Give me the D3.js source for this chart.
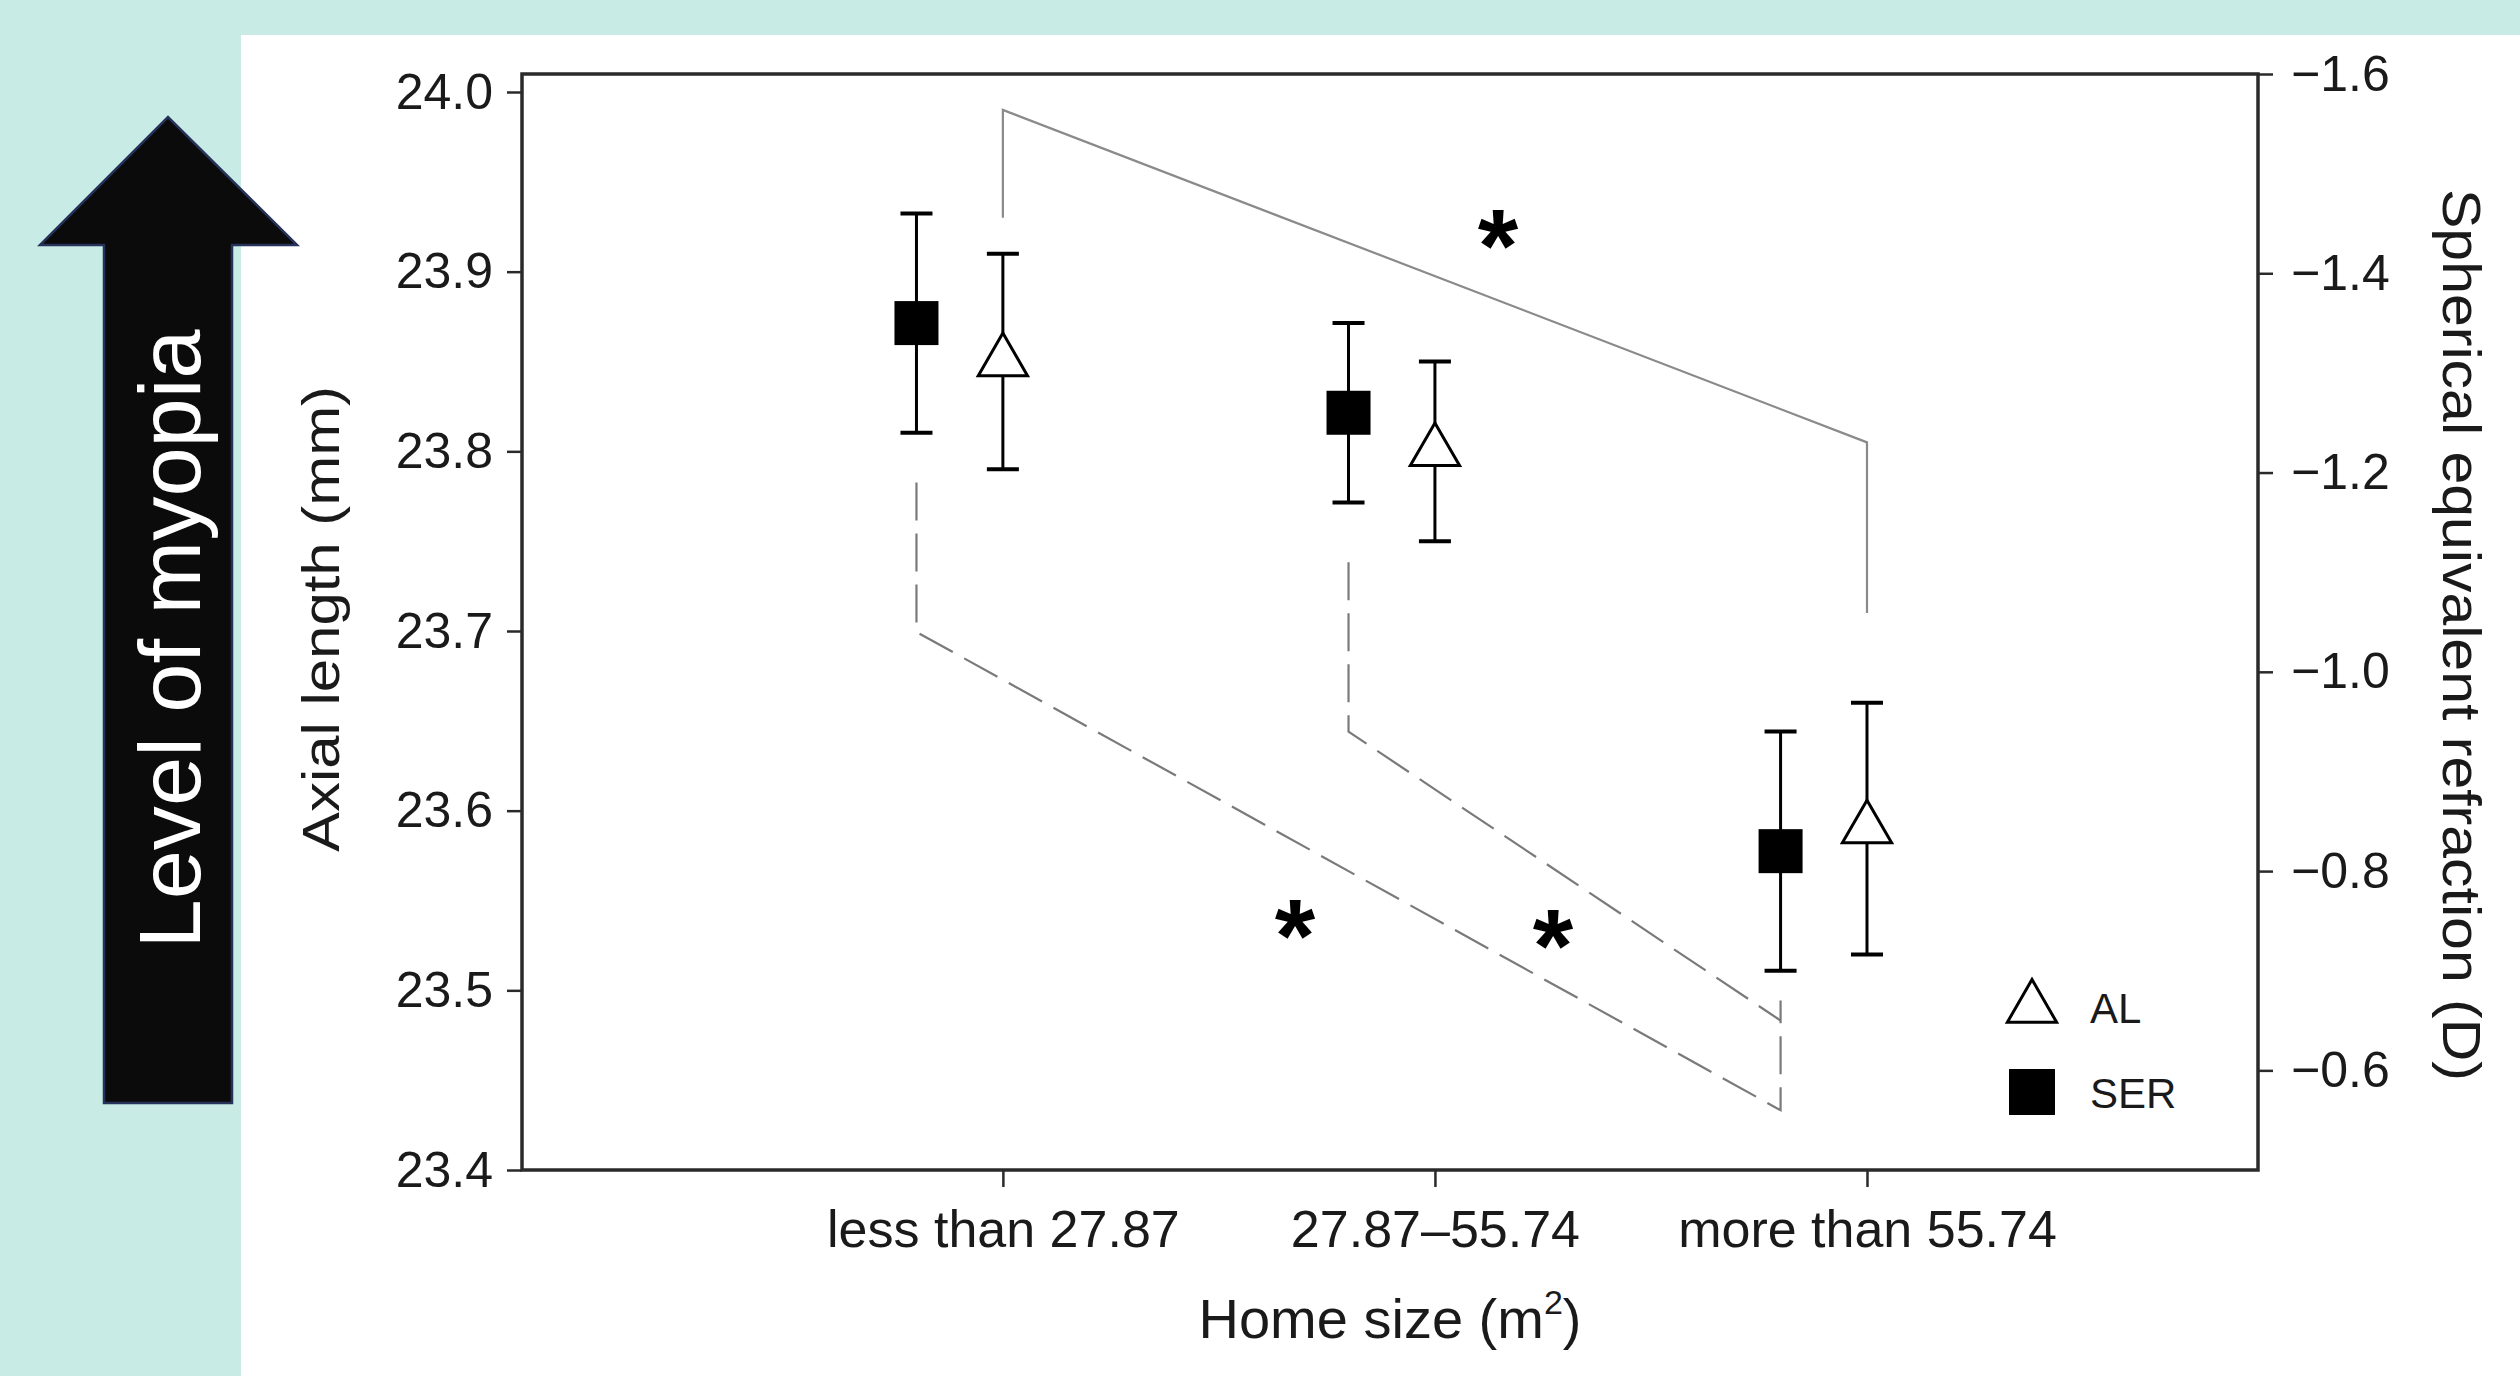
<!DOCTYPE html>
<html>
<head>
<meta charset="utf-8">
<script src="https://cdn.jsdelivr.net/npm/d3@7"></script>
<style>
  html, body { margin: 0; padding: 0; background: #c8ece5; }
  svg { display: block; }
  text { font-family: "Liberation Sans", Arial, sans-serif; }
</style>
</head>
<body>
<svg id="chart" width="2520" height="1376"></svg>
<script>
// ---------------- data ----------------
const categories = ["less than 27.87", "27.87\u201355.74", "more than 55.74"];
const alMean = [23.85, 23.80, 23.59];     // Axial length (mm), left axis
const alErr  = [0.06, 0.05, 0.07];
const serMean = [-1.35, -1.26, -0.82];    // Spherical equivalent refraction (D), right axis
const serErr  = [0.11, 0.09, 0.12];
const leftTicks  = [23.4, 23.5, 23.6, 23.7, 23.8, 23.9, 24.0];
const rightTicks = [-1.6, -1.4, -1.2, -1.0, -0.8, -0.6];
const serOffset = -0.2;                    // SER markers sit left of the category
// significance brackets: [category index, value]
const alBracket  = [[0, 23.93], [0, 23.99], [2, 23.805], [2, 23.71]];
const serBracketOuter = [[0, -1.19], [0, -1.04], [2, -0.56], [2, -0.67]];
const serBracketInner = [[1, -1.11], [1, -0.94], [2, -0.65]];
const alStars  = [[1.146, 23.922]];
const serStars = [[0.676 - serOffset, -0.749], [1.273 - serOffset, -0.739]];
const legendItems = ["AL", "SER"];

// ---------------- layout ----------------
const svg = d3.select("#chart");
svg.append("rect").attr("x", 0).attr("y", 0).attr("width", 2520).attr("height", 1376).attr("fill", "#c8ece5");
svg.append("rect").attr("x", 241).attr("y", 35).attr("width", 2279).attr("height", 1341).attr("fill", "#ffffff");

// Level of myopia arrow
const arrow = [[104, 1103], [104, 245], [40, 245], [168, 117], [297, 245], [232, 245], [232, 1103]];
svg.append("path")
  .attr("d", d3.line()(arrow) + "Z")
  .attr("fill", "#0b0b0b")
  .attr("stroke", "#26325a")
  .attr("stroke-width", 2.5);
svg.append("text")
  .attr("transform", "translate(200,639) rotate(-90)")
  .attr("text-anchor", "middle")
  .attr("font-size", 88)
  .attr("fill", "#ffffff")
  .attr("textLength", 619)
  .attr("lengthAdjust", "spacingAndGlyphs")
  .text("Level of myopia");

const X0 = 522, X1 = 2258, YT = 74, YB = 1170;
const x = d3.scaleLinear().domain([-1.113, 2.905]).range([X0, X1]);
const yL = d3.scaleLinear().domain([23.4, 24.0]).range([YB, 92]);
const yR = d3.scaleLinear().domain([-0.5, -1.6]).range([YB, YT]);

const axisColor = "#2a2a2a";

// frame
svg.append("rect")
  .attr("x", X0).attr("y", YT).attr("width", X1 - X0).attr("height", YB - YT)
  .attr("fill", "none").attr("stroke", axisColor).attr("stroke-width", 3.5);

function styleAxis(g) {
  g.select(".domain").remove();
  g.selectAll(".tick line").attr("stroke", axisColor).attr("stroke-width", 2.5);
  g.selectAll(".tick text").attr("fill", "#1a1a1a").attr("font-family", "Liberation Sans, Arial, sans-serif");
}

// left axis
svg.append("g")
  .attr("transform", `translate(${X0},0)`)
  .call(d3.axisLeft(yL).tickValues(leftTicks).tickFormat(d3.format(".1f")).tickSize(15).tickPadding(14))
  .call(styleAxis)
  .call(g => g.selectAll(".tick text").attr("font-size", 50));

// right axis
svg.append("g")
  .attr("transform", `translate(${X1},0)`)
  .call(d3.axisRight(yR).tickValues(rightTicks).tickFormat(d3.format(".1f")).tickSize(15).tickPadding(18))
  .call(styleAxis)
  .call(g => g.selectAll(".tick text").attr("font-size", 50));

// bottom axis
svg.append("g")
  .attr("transform", `translate(0,${YB})`)
  .call(d3.axisBottom(x).tickValues([0, 1, 2]).tickFormat(i => categories[i]).tickSize(17).tickPadding(23))
  .call(styleAxis)
  .call(g => g.selectAll(".tick text").attr("font-size", 52));

// axis titles
svg.append("text")
  .attr("transform", "translate(339,619) rotate(-90)")
  .attr("text-anchor", "middle")
  .attr("font-size", 52)
  .attr("fill", "#1a1a1a")
  .attr("textLength", 466)
  .attr("lengthAdjust", "spacingAndGlyphs")
  .text("Axial length (mm)");

svg.append("text")
  .attr("transform", "translate(2443,635) rotate(90)")
  .attr("text-anchor", "middle")
  .attr("font-size", 54)
  .attr("fill", "#1a1a1a")
  .attr("textLength", 892)
  .attr("lengthAdjust", "spacingAndGlyphs")
  .text("Spherical equivalent refraction (D)");

const xt = svg.append("text")
  .attr("x", (X0 + X1) / 2).attr("y", 1338)
  .attr("text-anchor", "middle")
  .attr("font-size", 56)
  .attr("fill", "#1a1a1a");
xt.append("tspan").text("Home size (m");
xt.append("tspan").attr("font-size", 34).attr("dy", -24).text("2");
xt.append("tspan").attr("dy", 24).text(")");

// significance brackets
const lineAL = d3.line().x(d => x(d[0])).y(d => yL(d[1]));
const lineSER = d3.line().x(d => x(d[0] + serOffset)).y(d => yR(d[1]));
svg.append("path").attr("d", lineAL(alBracket))
  .attr("fill", "none").attr("stroke", "#8a8a8a").attr("stroke-width", 2.2);
[serBracketOuter, serBracketInner].forEach(b => {
  svg.append("path").attr("d", lineSER(b))
    .attr("fill", "none").attr("stroke", "#7a7a7a").attr("stroke-width", 2.2)
    .attr("stroke-dasharray", "38,13");
});

// stars
function star(px, py) {
  svg.append("text")
    .attr("x", px).attr("y", py).attr("dy", "0.48em")
    .attr("text-anchor", "middle")
    .attr("font-size", 104).attr("font-weight", "bold")
    .attr("fill", "#000")
    .text("*");
}
alStars.forEach(s => star(x(s[0]), yL(s[1])));
serStars.forEach(s => star(x(s[0] + serOffset), yR(s[1])));

// error bars
const capW = 16;
function errBar(cx, yTop, yBot) {
  const g = svg.append("g").attr("stroke", "#000").attr("stroke-width", 3);
  g.append("line").attr("x1", cx).attr("x2", cx).attr("y1", yTop).attr("y2", yBot);
  g.append("line").attr("x1", cx - capW).attr("x2", cx + capW).attr("y1", yTop).attr("y2", yTop).attr("stroke-width", 4);
  g.append("line").attr("x1", cx - capW).attr("x2", cx + capW).attr("y1", yBot).attr("y2", yBot).attr("stroke-width", 4);
}
serMean.forEach((m, i) => errBar(x(i + serOffset), yR(m - serErr[i]), yR(m + serErr[i])));
alMean.forEach((m, i) => errBar(x(i), yL(m + alErr[i]), yL(m - alErr[i])));

// markers
const sq = 44;
const triSym = d3.symbol().type(d3.symbolTriangle).size(1050);
svg.append("g").selectAll("rect").data(serMean).join("rect")
  .attr("x", (d, i) => x(i + serOffset) - sq / 2)
  .attr("y", d => yR(d) - sq / 2)
  .attr("width", sq).attr("height", sq)
  .attr("fill", "#000");
svg.append("g").selectAll("path").data(alMean).join("path")
  .attr("d", triSym)
  .attr("transform", (d, i) => `translate(${x(i)},${yL(d)})`)
  .attr("fill", "#fff").attr("stroke", "#000").attr("stroke-width", 3);

// legend
const lg = svg.append("g");
lg.append("path").attr("d", triSym).attr("transform", "translate(2032,1008)")
  .attr("fill", "#fff").attr("stroke", "#000").attr("stroke-width", 3);
lg.append("rect").attr("x", 2009).attr("y", 1069).attr("width", 46).attr("height", 46).attr("fill", "#000");
lg.selectAll("text").data(legendItems).join("text")
  .attr("x", 2090)
  .attr("y", (d, i) => 1023 + i * 85)
  .attr("font-size", 42)
  .attr("fill", "#1a1a1a")
  .text(d => d);
</script>
</body>
</html>
